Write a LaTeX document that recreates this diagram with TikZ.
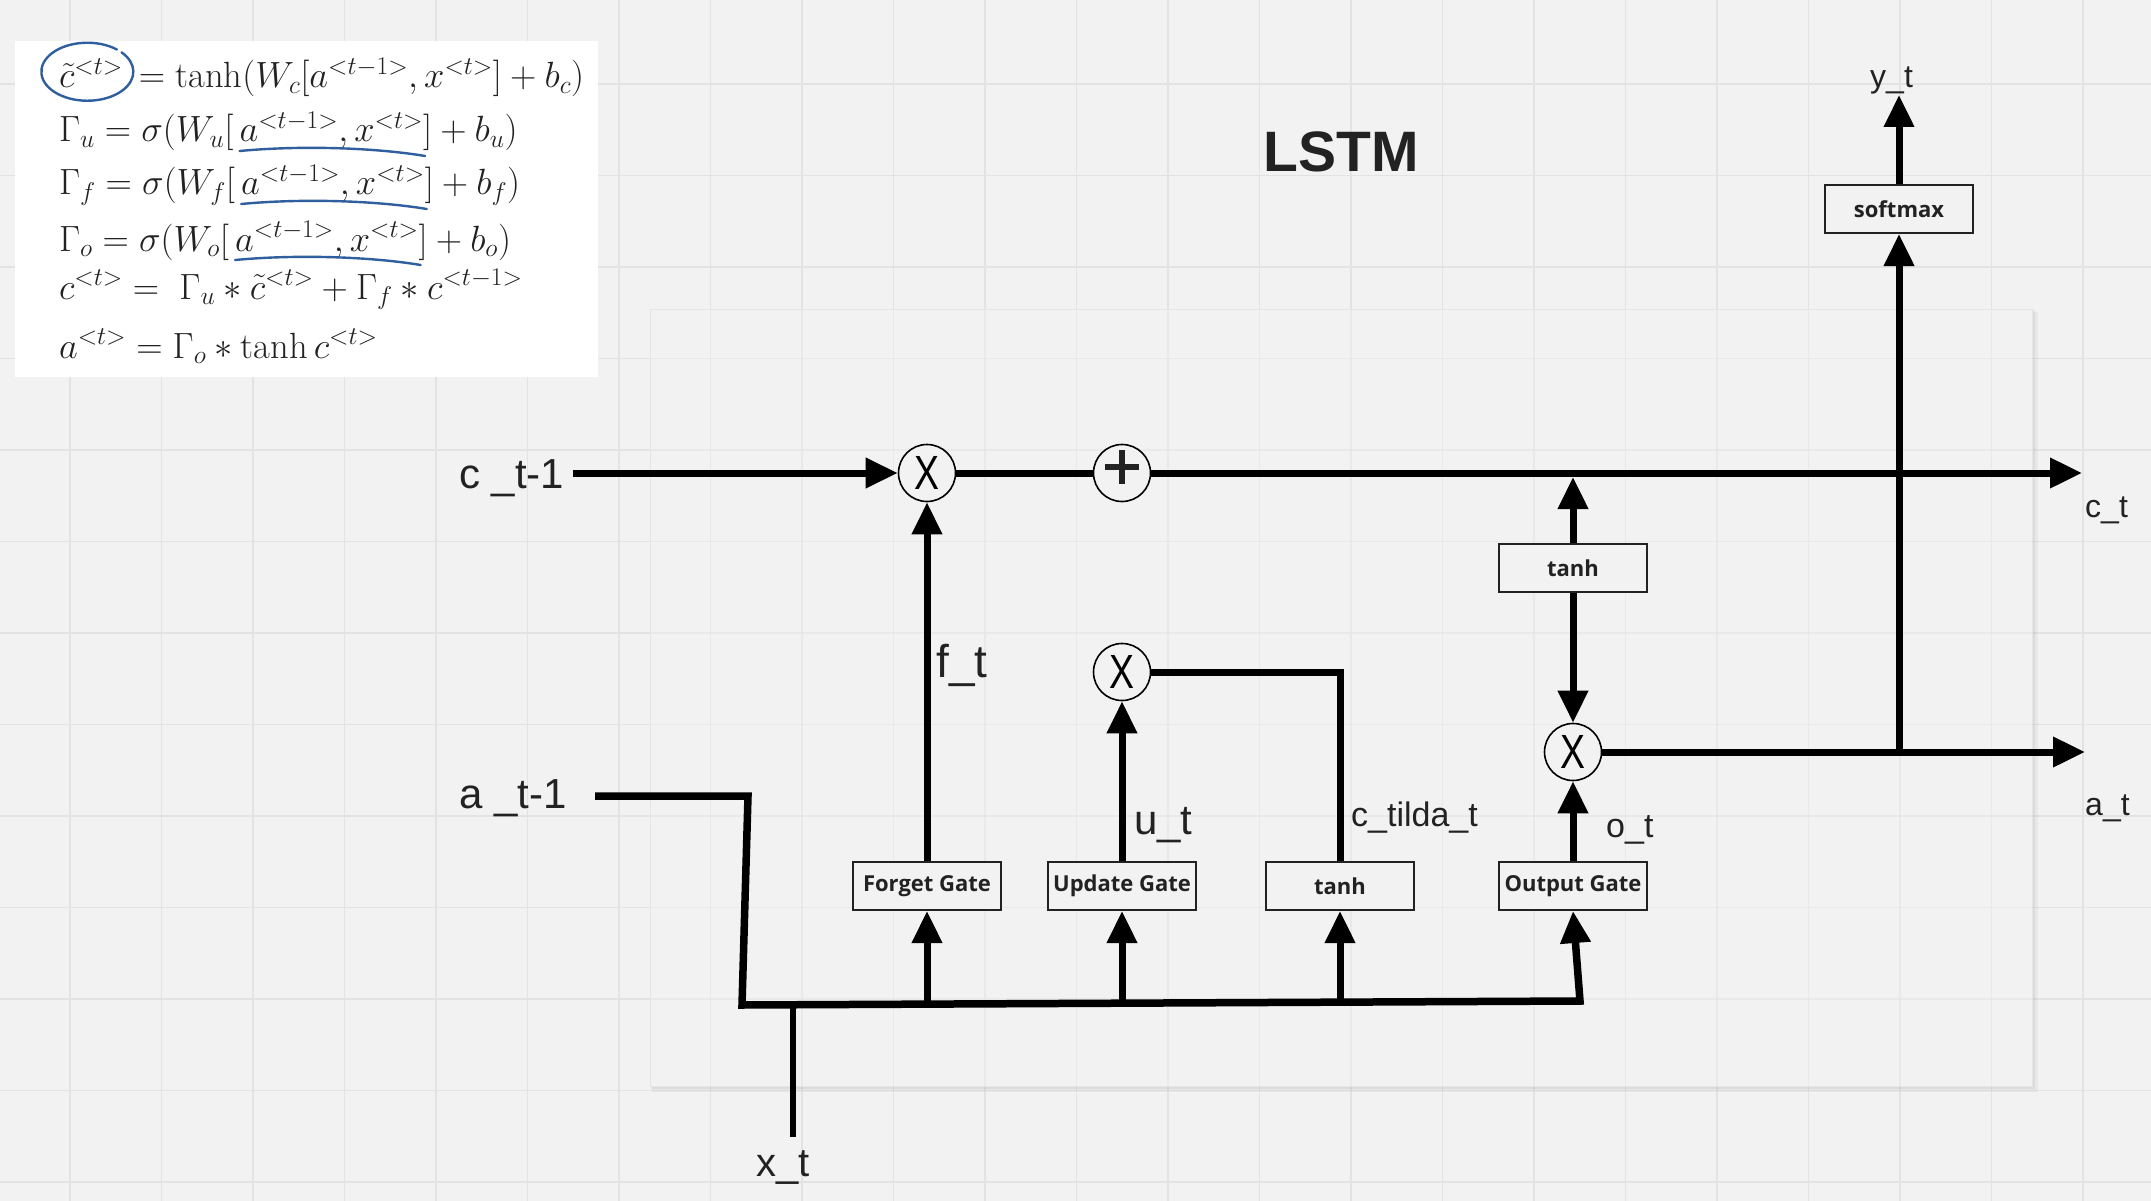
\RequirePackage{fix-cm}
\documentclass[tikz,border=0pt]{standalone}
\usepackage{fontspec}
\usepackage{amsmath}
\usepackage{graphicx}
\usetikzlibrary{arrows.meta,calc}

\newfontfamily\labelfont{Liberation Sans}
\newfontfamily\gatefont{Open Sans}

\definecolor{bg}{HTML}{F2F2F2}
\definecolor{gridc}{HTML}{E3E3E3}
\definecolor{ink}{HTML}{222222}
\definecolor{pen}{HTML}{2F5F9E}

\newcommand\opX{\labelfont\fontsize{48}{48}\selectfont\scalebox{0.78}[1]{X}}

\tikzset{
  wire/.style={line width=7pt, draw=black, line join=miter},
  arr/.style={wire, -{Triangle[length=32pt,width=29pt]}},
  gatebox/.style={draw=ink, line width=2pt, fill=bg, minimum width=148pt,
    minimum height=48pt, inner sep=0pt, text=ink,
    font=\gatefont\bfseries\fontsize{22}{26}\selectfont},
  opnode/.style={circle, draw=black, line width=1.6pt, fill=bg,
    minimum size=57pt, inner sep=0pt},
  lbl/.style={font=\labelfont\fontsize{#1}{#1}\selectfont, text=ink, inner sep=0pt},
  eq/.style={inner sep=0pt, outer sep=0pt, text=ink, font=\fontsize{36.5}{42}\selectfont},
  pen line/.style={draw=pen, line width=2.4pt, line cap=round},
}

\begin{document}
\begin{tikzpicture}[x=1pt,y=-1pt]
% canvas and grid
\fill[bg] (0,0) rectangle (2151,1201);
\useasboundingbox (0,0) rectangle (2151,1201);
\foreach \gx in {0,...,22}
  \draw[gridc, line width=1.5pt] ({70+91.5*\gx},0) -- ++(0,1201);
\foreach \gy in {0,...,12}
  \draw[gridc, line width=1.5pt] (0,{84+91.5*\gy}) -- ++(2151,0);

% formula card
\fill[white] (15,41) rectangle (598,377);

% cell frame with soft shadow, grid showing faintly through it
\fill[black, opacity=0.04] (652,312) rectangle (2038,1092);
\fill[black, opacity=0.05] (651,310) rectangle (2035,1089);
\fill[bg] (650,309) rectangle (2032,1086);
\begin{scope}
  \clip (650,309) rectangle (2032,1086);
  \foreach \gx in {0,...,22}
    \draw[gridc, line width=1.5pt, opacity=0.55] ({70+91.5*\gx},0) -- ++(0,1201);
  \foreach \gy in {0,...,12}
    \draw[gridc, line width=1.5pt, opacity=0.55] (0,{84+91.5*\gy}) -- ++(2151,0);
\end{scope}
\draw[black!10, line width=1pt] (650,309) rectangle (2032,1086);

% title
\node[font=\labelfont\bfseries\fontsize{57}{60}\selectfont, text=ink] (title) at (1341,152) {LSTM};

% equations
\node[eq, anchor=base west] (e1a) at (59,88) {$\tilde{c}^{<t>}$};
\node[eq, anchor=base west] (e1b) at ($(e1a.base east)+(6,0)$) {${}=\tanh(W_c[a^{<t-1>},x^{<t>}]+b_c)$};

\node[eq, anchor=base west] (e2a) at (59,142) {$\Gamma_u=\sigma(W_u[\,$};
\node[eq, anchor=base west] (e2b) at (e2a.base east) {$a^{<t-1>},x^{<t>}$};
\node[eq, anchor=base west] (e2c) at (e2b.base east) {$]+b_u)$};

\node[eq, anchor=base west] (e3a) at (59,195) {$\Gamma_f=\sigma(W_f[\,$};
\node[eq, anchor=base west] (e3b) at (e3a.base east) {$a^{<t-1>},x^{<t>}$};
\node[eq, anchor=base west] (e3c) at (e3b.base east) {$]+b_f)$};

\node[eq, anchor=base west] (e4a) at (59,251) {$\Gamma_o=\sigma(W_o[\,$};
\node[eq, anchor=base west] (e4b) at (e4a.base east) {$a^{<t-1>},x^{<t>}$};
\node[eq, anchor=base west] (e4c) at (e4b.base east) {$]+b_o)$};

\node[eq, anchor=base west] (e5) at (59,299) {$c^{<t>}=\;\Gamma_u\ast\tilde{c}^{<t>}+\Gamma_f\ast c^{<t-1>}$};
\node[eq, anchor=base west] (e6) at (59,358) {$a^{<t>}=\Gamma_o\ast\tanh c^{<t>}$};

% pen marks on the formulas
\draw[pen line] ($(e1a.center)+(26,-24)$)
  arc[start angle=50, end angle=402, x radius=46pt, y radius=29pt];
\foreach \r in {e2b,e3b,e4b}
  \draw[pen line] ($(\r.base west)+(0,9)$)
    .. controls ($(\r.base west)!0.35!(\r.base east)+(0,3)$)
    and ($(\r.base west)!0.75!(\r.base east)+(0,6)$)
    .. ($(\r.base east)+(2,14)$);

% operators
\node[opnode] (fx) at (927,473) {\opX};
\node[opnode, path picture={
  \draw[ink, line width=6pt] ($(path picture bounding box.center)+(-17,-6)$) -- ++(34,0);
  \draw[ink, line width=6pt] ($(path picture bounding box.center)+(0,-23)$) -- ++(0,34);
}] (px) at (1122,473) {};
\node[opnode] (ux) at (1122,672) {\opX};
\node[opnode] (ox) at (1573,752) {\opX};

% blocks
\node[gatebox] (fg) at (927,886) {Forget Gate};
\node[gatebox] (ug) at (1122,886) {Update Gate};
\node[gatebox] (tg) at (1340,886) {tanh};
\node[gatebox] (og) at (1573,886) {Output Gate};
\node[gatebox] (tc) at (1573,568) {tanh};
\node[gatebox] (sm) at (1899,209) {softmax};

% labels
\node[lbl=42, anchor=base west] (cprev) at (459,488) {c \_t-1};
\node[lbl=42, anchor=base west] (aprev) at (459,808) {a \_t-1};
\node[lbl=32, anchor=base west] (cnext) at (2085,517) {c\_t};
\node[lbl=32, anchor=base west] (anext) at (2085,815) {a\_t};
\node[lbl=32, anchor=base west] (yout) at (1870,88) {y\_t};
\node[lbl=46, anchor=base west] (flbl) at (936,677) {f\_t};
\node[lbl=42, anchor=base west] (ulbl) at (1134,834) {u\_t};
\node[lbl=34, anchor=base west] (clbl) at (1351,826) {c\_tilda\_t};
\node[lbl=34, anchor=base west] (olbl) at (1606,837) {o\_t};
\node[lbl=40, anchor=base west] (xin) at (756,1176) {x\_t};

% free ends and junctions
\coordinate (cstart) at (573,473);
\coordinate (cend) at (2082,473);
\coordinate (cjoin) at (1573,477);
\coordinate (aend) at (2085,752);
\coordinate (sjoin) at (1899,755);
\coordinate (ytip) at (1899,95);
\coordinate (astart) at (595,796);
\coordinate (ak1) at (748,796);
\coordinate (ak2) at (742,1005);
\coordinate (bend) at (1580,1001);
\coordinate (b1) at (927,1004);
\coordinate (b2) at (1122,1003);
\coordinate (b3) at (1340,1002);
\coordinate (xb) at (793,1005);
\coordinate (xe) at (793,1137);

% cell state path
\draw[arr] (cstart) -- (fx);
\draw[wire] (fx) -- (px);
\draw[arr] (px) -- (cend);

% hidden state and input bus
\draw[arr, line width=7.5pt] (astart) -- (ak1) -- (ak2) -- (bend) -- (og.south);
\draw[arr] (b1) -- (fg.south);
\draw[arr] (b2) -- (ug.south);
\draw[arr] (b3) -- (tg.south);
\draw[wire, line width=6.5pt] (xb) -- (xe);

% gate outputs
\draw[arr] (fg) -- (fx);
\draw[arr] (ug) -- (ux);
\draw[wire] (tg.north) |- (ux.east);
\draw[arr] (og) -- (ox);
\draw[arr] (tc) -- (ox);
\draw[arr] (tc) -- (cjoin);
\draw[arr] (ox) -- (aend);
\draw[arr] (sjoin) -- (sm);
\draw[arr] (sm) -- (ytip);
\end{tikzpicture}
\end{document}
